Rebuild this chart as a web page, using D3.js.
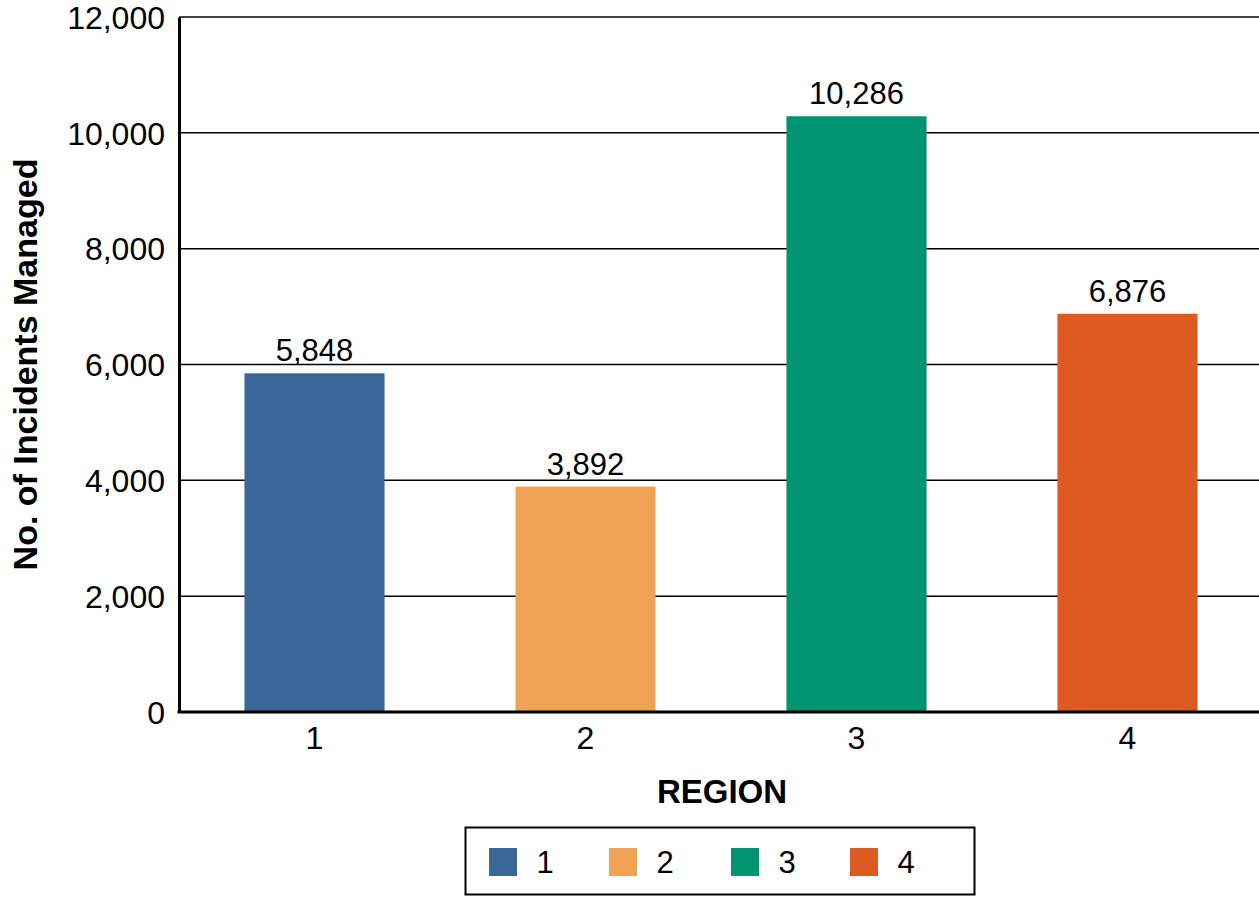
<!DOCTYPE html>
<html lang="en">
<head>
    <meta charset="UTF-8">
    <script src="https://d3js.org/d3.v7.min.js"></script>
    <title>Incidents by Region</title>
    <style>
        body { margin: 0; background: white; }
        svg text { font-family: "Liberation Sans", Arial, sans-serif; fill: #000; }
    </style>
</head>
<body>
    <div class="chart"></div>
    <script>
        // data
        const regions = ["1", "2", "3", "4"];
        const incidents = [5848, 3892, 10286, 6876];
        const barColors = ["#3b6798", "#efa355", "#009471", "#dd5a20"];
        const yTicks = [0, 2000, 4000, 6000, 8000, 10000, 12000];

        const width = 1259, height = 897;
        const margin = { top: 17, right: -4, bottom: 185, left: 179 };

        const svg = d3.select(".chart").append("svg")
            .attr("width", width)
            .attr("height", height);

        const x = d3.scaleBand()
            .domain(regions)
            .range([margin.left, width - margin.right])
            .paddingInner(0.483)
            .paddingOuter(0.2415);

        const y = d3.scaleLinear()
            .domain([0, 12000])
            .range([height - margin.bottom, margin.top]);

        const fmt = d3.format(",");

        // gridlines
        svg.append("g")
            .selectAll("line")
            .data(yTicks.slice(1))
            .join("line")
            .attr("x1", margin.left)
            .attr("x2", width)
            .attr("y1", d => y(d))
            .attr("y2", d => y(d))
            .attr("stroke", "#000")
            .attr("stroke-width", 1.5);

        // bars
        svg.append("g")
            .selectAll("rect")
            .data(incidents)
            .join("rect")
            .attr("x", (d, i) => x(regions[i]))
            .attr("y", d => y(d))
            .attr("width", x.bandwidth())
            .attr("height", d => y(0) - y(d))
            .attr("fill", (d, i) => barColors[i]);

        // value labels
        svg.append("g")
            .selectAll("text")
            .data(incidents)
            .join("text")
            .attr("x", (d, i) => x(regions[i]) + x.bandwidth() / 2)
            .attr("y", d => y(d) - 12)
            .attr("text-anchor", "middle")
            .style("font-size", "31px")
            .text(d => fmt(d));

        // y axis
        const yAxis = svg.append("g")
            .attr("transform", `translate(${margin.left},0)`)
            .call(d3.axisLeft(y).tickValues(yTicks).tickFormat(fmt).tickSize(0).tickPadding(14));
        yAxis.select(".domain").attr("stroke", "#000").attr("stroke-width", 3);
        yAxis.selectAll("text").style("font-size", "32px").attr("dy", "0.35em");

        // x axis
        const xAxis = svg.append("g")
            .attr("transform", `translate(0,${y(0)})`)
            .call(d3.axisBottom(x).tickSize(0).tickPadding(14));
        xAxis.select(".domain").attr("d", `M${margin.left - 1.5},0H${width}`)
            .attr("stroke", "#000").attr("stroke-width", 3);
        xAxis.selectAll("text").style("font-size", "32px");

        // axis titles
        svg.append("text")
            .attr("transform", `translate(37,${(y(0) + y(12000)) / 2}) rotate(-90)`)
            .attr("text-anchor", "middle")
            .style("font-size", "34px")
            .style("font-weight", "bold")
            .text("No. of Incidents Managed");

        svg.append("text")
            .attr("x", 722)
            .attr("y", 803)
            .attr("text-anchor", "middle")
            .style("font-size", "33px")
            .style("font-weight", "bold")
            .text("REGION");

        // legend
        const legend = svg.append("g");
        legend.append("rect")
            .attr("x", 465.5).attr("y", 827.5)
            .attr("width", 509).attr("height", 67)
            .attr("fill", "none").attr("stroke", "#000").attr("stroke-width", 2);

        const legendX = [489, 609, 731, 850];
        const item = legend.selectAll("g.item")
            .data(regions)
            .join("g")
            .attr("class", "item")
            .attr("transform", (d, i) => `translate(${legendX[i]},848)`);
        item.append("rect")
            .attr("width", 28).attr("height", 28)
            .attr("fill", (d, i) => barColors[i]);
        item.append("text")
            .attr("x", 56).attr("y", 14).attr("dy", "0.35em")
            .attr("text-anchor", "middle")
            .style("font-size", "31px")
            .text(d => d);
    </script>
</body>
</html>
